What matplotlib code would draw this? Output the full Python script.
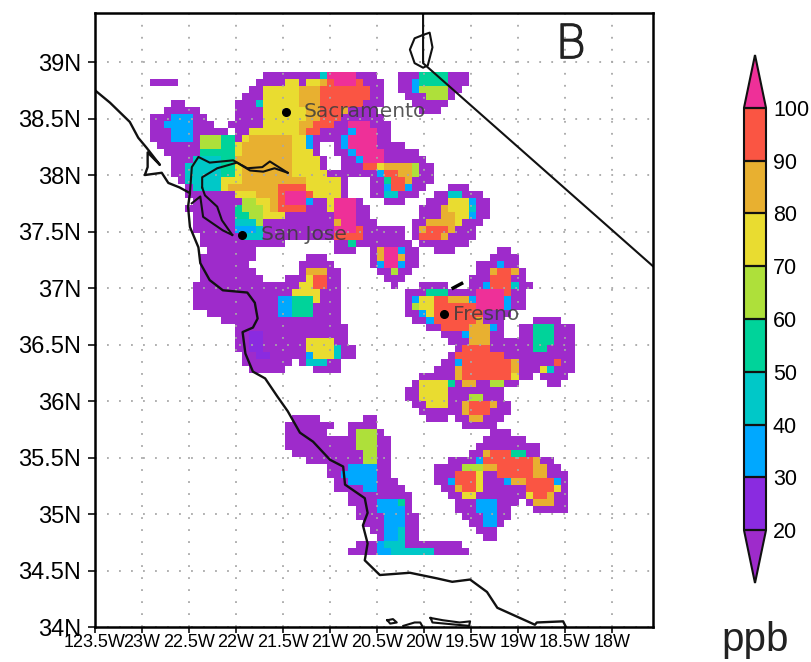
#!/usr/bin/env python

"""Ozone map over central California, panel B."""

import re

import numpy as np
import matplotlib
matplotlib.use('Agg')
import matplotlib.patheffects as pe
import matplotlib.pyplot as plt
from matplotlib.colors import BoundaryNorm, ListedColormap

plt.rcParams['font.family'] = ['Liberation Sans', 'DejaVu Sans']

# model cells: each row is "start column + class" runs, from north to south
CELL_ROWS = [
  "16a 24d 25j 29a 32. 35a 38e 42a 45.",
  "0a 4. 15a 19g 21a 22g 24h 25i 26j 29i 30a 33. 35a 37c 38e 42a 45.",
  "14a 16g 21h 24i 31a 33. 35a 37c 38f 42a 44.",
  "13a 16g 21h 24i 31a 33. 36a 39f 42a 43.",
  "3a 5. 12a 15d 16g 21h 24i 30a 33. 37a 42.",
  "2a 7. 12a 16g 22h 24i 27h 28a 32. 38a 41.",
  "0a 3c 6a 8. 12a 16g 22h 24i 27a 33.",
  "0a 2c 6a 9. 11a 16g 21h 23i 26a 28j 31a 34.",
  "0a 3c 6a 11. 12a 14g 21h 22i 24a 28c 29j 32a 34.",
  "0a 3c 6a 7f 10e 12a 13g 14h 20g 22c 23a 27c 28j 32a 34.",
  "1a 7f 10e 12g 13h 20g 22c 23a 24. 26a 27c 28j 32a 36.",
  "2a 7e 12g 13h 20g 23a 24. 26a 28c 29j 33a 38.",
  "3a 6d 10e 12h 20g 24a 25. 27a 29c 30j 33a 39.",
  "3a 5d 10e 12g 13h 20g 24a 25. 27a 30i 32g 33h 37f 38a 40.",
  "3a 5d 10e 12g 13h 20g 25a 32c 33i 35h 37f 38a 40.",
  "4a 5d 10g 13h 22g 27a 28. 31a 33e 34i 36h 37a 40.",
  "5a 6d 10g 11h 18i 22g 27a 28. 31a 33c 34i 36c 37a 39. 42a 45.",
  "5a 12g 15h 18i 19j 22i 23g 27a 28. 31a 33d 35a 38. 40a 42d 44a 47.",
  "6a 13f 15g 17h 18i 19j 22c 23a 25g 26j 29a 30. 33a 36. 39a 42g 45c 46a 48.",
  "5a 12e 13f 16g 17h 18i 22a 25g 26j 29a 31. 38a 41h 42g 45d 46a 48.",
  "6a 12e 14f 16g 19a 26j 29a 31. 38a 41h 43g 45c 46a 48.",
  "6a 12d 15f 16a 26h 27j 29a 32. 37a 39h 43g 44a 47.",
  "6a 12c 15d 16a 26j 29i 30a 36. 37a 38h 39i 42h 43a 46.",
  "7a 13d 16a 26i 30a 36. 37a 38i 41h 42a 46.",
  "7a 19. 26a 28e 29a 37. 38a 45.",
  "8a 15. 26a 29. 31a 32h 33j 35c 36a 38. 40a 43. 49a 51.",
  "7a 15. 22a 25. 31a 32h 33j 35h 36a 38. 48a 52.",
  "7a 14. 21a 26. 31a 32c 33j 35c 36a 38. 46a 49c 50a 52.",
  "7a 15. 21a 22h 25a 27. 32a 34f 35a 37. 46a 48h 49i 51h 52a 53.",
  "7a 16. 19a 22g 23i 25a 27. 33a 36. 45a 48i 51a 53.",
  "6a 21g 23i 25a 27. 34a 35. 38a 42. 45a 47c 48i 51d 52a 54.",
  "6a 20g 24a 27. 36a 39e 42a 46j 50i 51a 53.",
  "6a 18c 20e 23g 24a 27. 36a 37c 38g 40i 42h 45c 46j 50c 51a 53.",
  "6a 18c 20e 23a 27. 36a 37f 38g 40i 46j 50c 51a 53.",
  "8a 18c 20e 23a 27. 36a 38c 39g 40i 47a 51.",
  "10a 27. 37a 39c 40i 46h 47a 50. 54a 58.",
  "12a 28. 39a 41i 45h 48c 49a 50. 52a 54e 57a 60.",
  "12a 14b 16a 28. 41a 44c 45h 48a 50. 52a 54e 57a 60.",
  "12a 14b 16a 22g 26a 28. 42a 45h 48a 54e 57a 60.",
  "12a 14b 16a 22g 26d 27a 29. 43a 44i 48a 54e 56a 60.",
  "13a 15b 17a 22c 23g 26d 27a 29. 42a 43i 50a 60.",
  "13a 20. 21a 22d 25a 27. 41a 43c 44i 51h 52a 57i 58a 60.",
  "14a 19. 23a 27. 40a 43h 44i 51h 52a 55g 56d 57a 60.",
  "38a 43h 44i 51g 52a 54. 55a 59.",
  "37a 38g 42e 43a 44h 46a 48f 50a 52. 56a 58.",
  "36a 38g 42a 50.",
  "36a 38g 42a 45f 47a 50.",
  "37a 39g 42a 44h 45i 48h 49a 51.",
  "38a 44h 45i 48a 51.",
  "20a 24. 30a 32. 39a 42. 43a 45h 47a 50.",
  "19a 26. 28a 32. 44a 49.",
  "19a 25. 28a 29f 32a 33. 48a 51.",
  "19a 29f 32a 34. 47a 53.",
  "19a 29f 32a 34. 46a 55.",
  "20a 30f 32a 34. 45a 47h 48i 51e 53a 55.",
  "22a 30f 32a 34. 42a 46c 47i 54h 55a 57.",
  "25a 28c 32a 34. 40a 44f 47h 49i 54h 56a 58.",
  "25a 27c 32a 34. 40a 43i 46g 47a 49i 54h 56a 59.",
  "26a 28c 32a 35. 40a 42c 43i 46g 47a 50c 51h 53i 57c 58a 59.",
  "26a 30c 32a 36. 41a 43h 44i 46g 47a 53i 57g 58a 59.",
  "28a 37. 42a 44g 46a 53g 54i 56h 57a 59.",
  "28a 32c 35e 36a 37. 43a 46c 49a 52. 53a 54h 57a 59.",
  "29a 32c 36a 37. 43a 46c 49a 51. 54a 59.",
  "29a 33c 36a 38. 44a 47c 49a 51.",
  "30a 33c 36a 38. 45a 47c 49a 50.",
  "31a 33c 35d 36a 38. 46a 49.",
  "32a 33c 35d 36a 38. 47a 49.",
  "29a 32c 33d 36a 44.",
  "28a 32c 34d 40a 45.",
]
CLASS_PPB = dict(a=15, b=25, c=35, d=45, e=55, f=65, g=75, h=85, i=95, j=105)

LEVELS = [20, 30, 40, 50, 60, 70, 80, 90, 100]
COLORS = ['#8a2be0', '#00a8ff', '#00c8c8', '#00d39a', '#aee03a', '#e9dc30', '#e8b030', '#fa5543']
UNDER_COLOR = '#9e2bcb'
OVER_COLOR = '#ee3098'

X_TICKS = [-123.5, -123, -122.5, -122, -121.5, -121, -120.5, -120, -119.5, -119, -118.5, -118]
X_LABELS = ['123.5W', '23W', '22.5W', '22W', '21.5W', '21W', '20.5W', '20W', '19.5W', '19W', '18.5W', '18W']
Y_TICKS = [34, 34.5, 35, 35.5, 36, 36.5, 37, 37.5, 38, 38.5, 39]
Y_LABELS = ['34N', '34.5N', '35N', '35.5N', '36N', '36.5N', '37N', '37.5N', '38N', '38.5N', '39N']

COAST_LON = [-123.50, -123.34, -123.13, -123.04, -122.95, -122.81, -122.94, -122.94, -122.97, -122.79,
             -122.72, -122.60, -122.49, -122.51, -122.49, -122.40, -122.38, -122.28, -122.14, -121.88,
             -121.80, -121.77, -121.82, -121.93, -121.90, -121.82, -121.69, -121.56, -121.45, -121.32,
             -121.18, -121.00, -120.86, -120.84, -120.63, -120.60, -120.65, -120.60, -120.63, -120.47,
             -120.15, -119.86, -119.70, -119.51, -119.33, -119.22, -118.82, -118.80, -118.52, -118.49]
COAST_LAT = [38.75, 38.64, 38.47, 38.33, 38.24, 38.09, 38.20, 38.07, 38.00, 38.02,
             37.93, 37.89, 37.84, 37.72, 37.54, 37.36, 37.22, 37.07, 36.98, 36.96,
             36.87, 36.73, 36.65, 36.61, 36.42, 36.26, 36.20, 36.04, 35.91, 35.72,
             35.64, 35.48, 35.42, 35.26, 35.14, 35.01, 34.90, 34.74, 34.59, 34.46,
             34.48, 34.43, 34.40, 34.42, 34.31, 34.17, 34.02, 34.04, 34.05, 34.00]

# bay and delta shorelines, state line, lake and islands
SHORES = [
  ([-122.49, -122.47, -122.40, -122.28, -122.03, -121.88, -121.72, -121.64, -121.45],
   [37.84, 38.07, 38.16, 38.11, 38.13, 38.06, 38.07, 38.12, 38.02]),
  ([-122.36, -122.36, -122.20, -121.99, -121.85, -121.71, -121.59, -121.45],
   [37.89, 37.98, 38.06, 38.11, 38.04, 38.03, 38.06, 38.02]),
  ([-122.36, -122.33, -122.20, -122.15, -122.04],
   [37.89, 37.82, 37.72, 37.60, 37.47]),
  ([-122.47, -122.38, -122.35, -122.14, -122.04],
   [37.75, 37.81, 37.63, 37.51, 37.47]),
  ([-120.01, -120.01, -117.56], [39.43, 38.99, 37.19]),
  ([-120.01, -119.94, -119.91, -119.96, -120.01, -120.10, -120.15, -120.10, -120.01],
   [39.24, 39.26, 39.13, 38.97, 38.95, 38.99, 39.11, 39.21, 39.24]),
  ([-120.39, -120.33, -120.29, -120.36, -120.39], [34.06, 34.07, 34.04, 34.03, 34.06]),
  ([-120.22, -120.10, -120.04, -120.02], [34.01, 34.04, 34.04, 34.01]),
  ([-119.93, -119.80, -119.62, -119.51, -119.52, -119.78, -119.91, -119.93],
   [34.08, 34.06, 34.04, 34.05, 34.01, 34.03, 34.04, 34.08]),
]
RESERVOIR_LON = [-119.69, -119.60]
RESERVOIR_LAT = [37.00, 37.04]

CITY_NAMES = ['Sacramento', 'San Jose', 'Fresno']
CITY_LON = [-121.47, -121.94, -119.79]
CITY_LAT = [38.56, 37.47, 36.77]
CITY_OFFSET = [13, 14, 6.5]

# grid geometry
LON_WEST = -122.915
LON_STEP = 0.0754
LAT_NORTH = 38.912
LAT_STEP = 0.06195
N_COLS = 61


def decode_rows(rows):
  """Expand the run strings into a masked array of ppb values."""
  grid = np.full((len(rows), N_COLS), np.nan)
  for r, row in enumerate(rows):
    runs = re.findall(r'(\d+)([a-j.])', row)
    for k, (start, code) in enumerate(runs):
      if code == '.':
        continue
      stop = int(runs[k + 1][0]) if k + 1 < len(runs) else N_COLS
      grid[r, int(start):stop] = CLASS_PPB[code]
  return np.ma.masked_invalid(grid)


def main():
  fig = plt.figure(figsize=(8.11, 6.62), dpi=100)
  ax = fig.add_axes([95 / 811, 1 - 627 / 662, 558 / 811, 614 / 662])

  cmap = ListedColormap(COLORS).with_extremes(under=UNDER_COLOR, over=OVER_COLOR, bad='white')
  norm = BoundaryNorm(LEVELS, len(COLORS))

  grid = decode_rows(CELL_ROWS)
  lon_edges = LON_WEST + LON_STEP * np.arange(grid.shape[1] + 1)
  lat_edges = LAT_NORTH - LAT_STEP * np.arange(grid.shape[0] + 1)
  mesh = ax.pcolormesh(lon_edges, lat_edges, grid, cmap=cmap, norm=norm, zorder=1)

  ax.grid(True, color='#a8a8a8', linewidth=1.3, dashes=(1, 5.65), zorder=2)
  ax.set_axisbelow(False)

  ax.plot(COAST_LON, COAST_LAT, color='#111111', lw=1.7, zorder=3)
  for lon, lat in SHORES:
    ax.plot(lon, lat, color='#111111', lw=1.5, zorder=3)
  ax.plot(RESERVOIR_LON, RESERVOIR_LAT, color='black', lw=2.5, zorder=3)

  ax.plot(CITY_LON, CITY_LAT, 'o', color='black', ms=5.5, zorder=4)
  for name, lon, lat, dx in zip(CITY_NAMES, CITY_LON, CITY_LAT, CITY_OFFSET):
    ax.annotate(name, (lon, lat), xytext=(dx, 0), textcoords='offset points', va='center',
                fontsize=14.5, family='DejaVu Sans', color='#3c3c3c', alpha=0.85, zorder=5)

  ax.text(0.8525, 0.9475, 'B', transform=ax.transAxes, ha='center', va='center',
          fontsize=34, family='DejaVu Sans', color='#222222', fontweight='light',
          path_effects=[pe.withStroke(linewidth=0.8, foreground='#222222')])

  ax.set_xlim(-123.5, -117.564)
  ax.set_ylim(34, 39.434)
  ax.set_xticks(X_TICKS)
  ax.set_xticklabels(X_LABELS, fontsize=13)
  ax.set_yticks(Y_TICKS)
  ax.set_yticklabels(Y_LABELS, fontsize=17)
  ax.tick_params(axis='x', length=4, width=1.3, pad=1, color='#222222')
  ax.tick_params(axis='y', length=5, width=1.3, pad=5, color='#222222')
  for spine in ax.spines.values():
    spine.set_linewidth(1.8)
    spine.set_zorder(6)

  cax = fig.add_axes([744 / 811, 1 - 583 / 662, 22 / 811, 528 / 662])
  cbar = fig.colorbar(mesh, cax=cax, extend='both', extendfrac=0.125, drawedges=True,
                      ticks=LEVELS, spacing='uniform')
  cbar.dividers.set_color('#111111')
  cbar.dividers.set_linewidth(1.6)
  cbar.outline.set_linewidth(1.5)
  cbar.outline.set_edgecolor('#111111')
  cbar.ax.tick_params(length=0, labelsize=15.5, pad=5)

  fig.text(755 / 811, 1 - 651 / 662, 'ppb', fontsize=29, ha='center', va='baseline', color='#222222')

  fig.savefig('out.png', dpi=100)


if __name__ == "__main__":
  main()
